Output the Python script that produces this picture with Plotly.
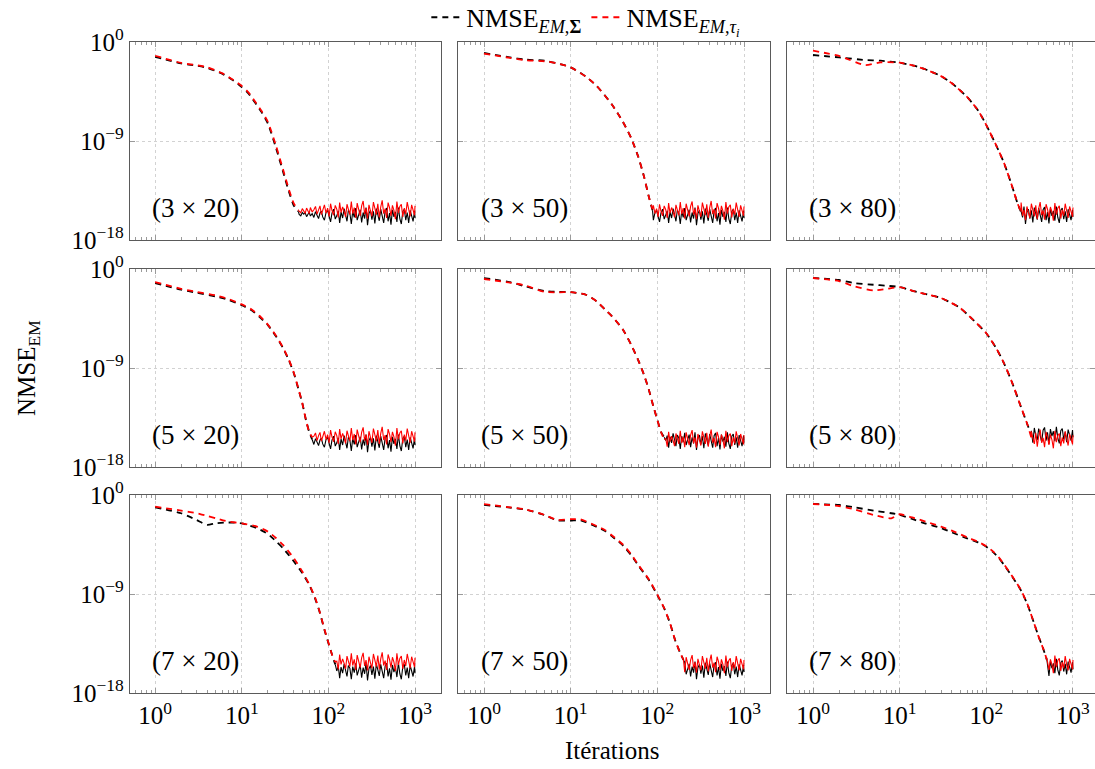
import plotly.graph_objects as go

# ---------------- data (log10 of NMSE) ----------------
LABELS = ["(3 × 20)", "(3 × 50)", "(3 × 80)",
          "(5 × 20)", "(5 × 50)", "(5 × 80)",
          "(7 × 20)", "(7 × 50)", "(7 × 80)"]

IT_3x20 = [1, 2, 3, 4, 6, 8, 10, 12, 14.5, 17, 20, 25, 30, 35, 40, 45]
K_3x20 = [-1.35, -1.95, -2.15, -2.35, -2.9, -3.5, -4.1, -4.7, -5.6, -6.4, -7.4, -9.7, -11.8, -13.6, -14.9, -15.4]
R_3x20 = [-1.25, -1.9, -2.1, -2.3, -2.85, -3.45, -4.0, -4.6, -5.5, -6.3, -7.25, -9.5, -11.6, -13.4, -14.7, -15.3]

IT_3x50 = [1, 2, 3, 5, 7, 10, 15, 20, 30, 40, 50, 60, 70, 80, 88]
K_3x50 = [-1.0, -1.4, -1.6, -1.7, -1.95, -2.3, -3.15, -4.0, -5.7, -7.25, -8.75, -10.4, -12.2, -14.1, -15.3]
R_3x50 = [-1.05, -1.45, -1.65, -1.75, -1.95, -2.3, -3.15, -4.0, -5.7, -7.25, -8.75, -10.4, -12.2, -14.1, -15.2]

IT_3x80 = [1, 2, 4, 6, 10, 15, 20, 30, 40, 60, 80, 100, 130, 160, 200, 230, 250]
K_3x80 = [-1.18, -1.4, -1.64, -1.7, -1.88, -2.18, -2.5, -3.1, -3.75, -5.0, -6.2, -7.55, -9.4, -11.0, -13.2, -14.7, -15.4]
R_3x80 = [-0.79, -1.27, -2.1, -1.85, -1.88, -2.18, -2.5, -3.1, -3.75, -5.0, -6.2, -7.55, -9.4, -11.0, -13.2, -14.7, -15.4]

IT_5x20 = [1, 2, 3, 5, 7, 10, 13, 16, 20, 25, 30, 35, 40, 45, 50, 55, 60, 65]
K_5x20 = [-1.28, -1.88, -2.15, -2.5, -2.8, -3.3, -3.75, -4.35, -5.1, -6.15, -7.2, -8.3, -9.5, -10.9, -12.2, -13.7, -14.8, -15.5]
R_5x20 = [-1.19, -1.8, -2.08, -2.4, -2.72, -3.22, -3.68, -4.25, -5.05, -6.1, -7.15, -8.25, -9.45, -10.85, -12.2, -13.7, -14.8, -15.3]

IT_5x50 = [1, 2, 3, 5, 7, 10, 15, 20, 25, 30, 40, 50, 60, 70, 80, 90, 100, 110, 120]
K_5x50 = [-0.82, -1.2, -1.58, -2.0, -2.08, -2.1, -2.34, -2.95, -3.7, -4.3, -5.5, -6.9, -8.27, -9.6, -11.0, -12.5, -13.7, -14.8, -15.3]
R_5x50 = [-0.91, -1.24, -1.5, -2.08, -2.12, -2.1, -2.34, -2.95, -3.7, -4.3, -5.5, -6.9, -8.27, -9.6, -11.0, -12.5, -13.7, -14.8, -15.5]

IT_5x80 = [1, 2, 3, 5, 7, 10, 15, 20, 30, 40, 50, 70, 100, 130, 160, 200, 250, 300, 330]
K_5x80 = [-0.82, -1.0, -1.28, -1.43, -1.52, -1.64, -2.04, -2.28, -2.64, -3.1, -3.55, -4.6, -5.84, -7.2, -8.57, -10.4, -12.5, -14.2, -15.0]
R_5x80 = [-0.82, -1.1, -1.58, -1.95, -1.82, -1.64, -2.04, -2.28, -2.64, -3.1, -3.55, -4.6, -5.84, -7.2, -8.57, -10.4, -12.5, -14.2, -15.3]

IT_7x20 = [1, 2, 3, 4, 5, 7, 10, 15, 20, 25, 30, 40, 50, 60, 70, 80, 90, 100, 110, 120]
K_7x20 = [-1.12, -1.66, -2.27, -2.72, -2.57, -2.5, -2.57, -3.02, -3.54, -4.23, -4.84, -6.05, -7.1, -8.17, -9.37, -10.74, -12.25, -13.46, -14.5, -15.4]
R_7x20 = [-1.06, -1.42, -1.66, -1.9, -2.12, -2.42, -2.57, -2.87, -3.33, -3.93, -4.54, -5.75, -6.96, -8.1, -9.3, -10.7, -12.2, -13.4, -14.5, -15.2]

IT_7x50 = [1, 2, 3, 5, 7, 10, 13, 20, 25, 30, 40, 50, 60, 80, 100, 120, 140, 160, 180, 200]
K_7x50 = [-0.9, -1.15, -1.32, -1.83, -2.3, -2.33, -2.3, -2.9, -3.28, -3.76, -4.58, -5.48, -6.38, -7.74, -9.1, -10.3, -11.65, -13.17, -14.2, -15.0]
R_7x50 = [-0.82, -1.12, -1.3, -1.81, -2.27, -2.2, -2.22, -2.82, -3.2, -3.68, -4.5, -5.4, -6.32, -7.68, -9.05, -10.29, -11.65, -13.17, -14.2, -14.97]

IT_7x80 = [1, 2, 3, 5, 8, 10, 15, 20, 30, 40, 60, 80, 100, 120, 140, 160, 200, 250, 300, 350, 400, 450, 500]
K_7x80 = [-0.82, -0.91, -1.12, -1.42, -1.66, -1.81, -2.27, -2.6, -3.0, -3.4, -3.95, -4.3, -4.7, -5.2, -5.75, -6.35, -7.45, -8.65, -10.0, -11.5, -12.85, -13.9, -15.0]
R_7x80 = [-0.82, -1.0, -1.3, -1.81, -2.12, -1.75, -2.12, -2.42, -2.87, -3.24, -3.85, -4.25, -4.65, -5.15, -5.7, -6.3, -7.41, -8.62, -9.98, -11.5, -12.85, -13.9, -14.97]

# noise floor after convergence (log10 levels)
FLOOR_K = [-15.6, -15.6, -15.5, -15.6, -15.4, -14.9, -15.8, -15.7, -15.45]
FLOOR_R = [-15.4, -15.45, -15.55, -15.35, -15.6, -15.6, -15.3, -15.5, -15.5]

TAIL_IT = [40, 42, 44, 46, 48, 50, 52, 54, 56, 58, 60, 62, 65, 68, 71, 74, 77, 80, 83, 86,
           90, 94, 98, 102, 106, 110, 115, 120, 125, 130, 135, 140, 146, 152, 158, 164, 170, 177, 184, 191,
           199, 207, 215, 224, 233, 242, 252, 262, 272, 283, 294, 306, 318, 331, 344, 358, 372, 387, 402, 418,
           435, 452, 470, 489, 508, 528, 549, 571, 594, 618, 643, 668, 695, 723, 752, 782, 813, 845, 879, 914,
           950, 988, 1000]
NOISE_K = [0.05, -0.12, 0.02, -0.08, -0.20, 0.10, -0.05, 0.08, -0.28, -0.10,
           0.12, -0.22, 0.00, -0.35, 0.18, -0.15, -0.45, 0.05, 0.22, -0.30,
           -0.60, 0.10, 0.30, -0.25, -0.75, 0.05, 0.40, -0.50, -0.20, 0.25,
           -0.85, 0.15, -0.40, 0.45, -0.10, -0.70, 0.30, 0.05, -0.95, 0.20,
           -0.35, 0.50, -0.60, -0.15, 0.35, -0.80, 0.10, -0.45, 0.55, -1.05,
           0.00, 0.30, -0.55, 0.20, -0.90, 0.45, -0.25, -0.65, 0.40, -0.10,
           -0.85, 0.25, 0.50, -0.70, 0.05, -1.00, 0.35, -0.30, 0.15, -0.75,
           0.55, -0.45, -0.95, 0.20, 0.40, -0.60, 0.10, -0.85, 0.30, -0.20,
           -0.70, 0.25, -0.40]
NOISE_R = [0.08, -0.05, 0.18, 0.00, -0.12, 0.25, 0.05, -0.18, 0.30, 0.10,
           -0.20, 0.35, -0.05, 0.15, 0.45, -0.25, 0.20, 0.50, -0.30, 0.05,
           0.60, -0.15, 0.30, -0.45, 0.70, 0.10, -0.35, 0.55, 0.20, -0.55,
           0.80, -0.10, 0.40, 0.00, -0.50, 0.65, 0.25, -0.30, 0.90, -0.20,
           0.35, -0.60, 0.75, 0.10, -0.40, 0.50, 0.95, -0.25, 0.30, -0.65,
           0.60, 0.05, -0.45, 0.85, 0.20, -0.30, 0.70, -0.55, 0.40, 1.00,
           -0.20, 0.25, -0.60, 0.80, 0.35, -0.40, 0.55, 0.10, -0.70, 0.90,
           -0.15, 0.45, 0.65, -0.50, 0.30, -0.25, 0.85, 0.05, -0.45, 0.60,
           0.20, -0.35, 0.50]

X_TICKS = [1, 10, 100, 1000]
X_TICKTEXT = ["10<sup>0</sup>", "10<sup>1</sup>", "10<sup>2</sup>", "10<sup>3</sup>"]
Y_TICKS = [1, 1e-9, 1e-18]
Y_TICKTEXT = ["10<sup>0</sup>", "10<sup>−9</sup>", "10<sup>−18</sup>"]
X_MINOR = [0.6, 0.7, 0.8, 0.9] + [m * d for d in (1, 10, 100) for m in range(2, 10)] + [2000]

PANELS = [(IT_3x20, K_3x20, R_3x20), (IT_3x50, K_3x50, R_3x50), (IT_3x80, K_3x80, R_3x80),
          (IT_5x20, K_5x20, R_5x20), (IT_5x50, K_5x50, R_5x50), (IT_5x80, K_5x80, R_5x80),
          (IT_7x20, K_7x20, R_7x20), (IT_7x50, K_7x50, R_7x50), (IT_7x80, K_7x80, R_7x80)]

# ---------------- layout geometry ----------------
W, H = 1095, 769
COL_PX = [(130, 441), (458, 770), (787, 1095)]
ROW_PX = [(42, 240), (269, 467), (495, 693)]
XR = [[-0.29, 3.3], [-0.3, 3.3], [-0.3, 3.254]]

FONT = "Liberation Serif"
FRAME = "#5a5a5a"
TICKC = "#9a9a9a"
GRID = "#d2d2d2"
TICKSIZE = 25

fig = go.Figure()
layout = dict(
    width=W, height=H, margin=dict(l=0, r=0, t=0, b=0, pad=0, autoexpand=False),
    paper_bgcolor="white", plot_bgcolor="white",
    font=dict(family=FONT, size=TICKSIZE, color="black"),
    showlegend=True,
    legend=dict(orientation="h", x=0.535, xanchor="center", y=1.008, yanchor="top",
                font=dict(family=FONT, size=26), bgcolor="rgba(0,0,0,0)",
                itemwidth=30, tracegroupgap=0),
)
annotations = []

for p, (it, k, r) in enumerate(PANELS):
    row, col = divmod(p, 3)
    n = p + 1
    xa = "x" if n == 1 else f"x{n}"
    ya = "y" if n == 1 else f"y{n}"
    x0, x1 = COL_PX[col]
    y0, y1 = ROW_PX[row]

    layout["xaxis" if n == 1 else f"xaxis{n}"] = dict(
        type="log", range=XR[col], domain=[x0 / W, x1 / W], anchor=ya,
        showline=True, linecolor=FRAME, linewidth=1.3, mirror="ticks",
        ticks="inside", ticklen=5, tickcolor=TICKC, tickwidth=1,
        tickvals=X_TICKS, ticktext=X_TICKTEXT, showticklabels=(row == 2),
        ticklabeloverflow="allow",
        tickfont=dict(family=FONT, size=TICKSIZE, color="black"),
        showgrid=True, gridcolor=GRID, griddash="dot", gridwidth=1,
        minor=dict(tickvals=X_MINOR, ticks="inside", ticklen=3, tickcolor=TICKC, showgrid=False),
        zeroline=False,
    )
    layout["yaxis" if n == 1 else f"yaxis{n}"] = dict(
        type="log", range=[-18, 0], domain=[1 - y1 / H, 1 - y0 / H], anchor=xa,
        showline=True, linecolor=FRAME, linewidth=1.3, mirror="ticks",
        ticks="inside", ticklen=5, tickcolor=TICKC, tickwidth=1,
        tickvals=Y_TICKS, ticktext=Y_TICKTEXT, showticklabels=(col == 0),
        tickfont=dict(family=FONT, size=TICKSIZE, color="black"),
        showgrid=True, gridcolor=GRID, griddash="dot", gridwidth=1,
        zeroline=False,
    )

    for vals, floor, noise, color, name in (
            (k, FLOOR_K[p], NOISE_K, "black", "NMSE<sub><i>EM</i>,<b>Σ</b></sub>"),
            (r, FLOOR_R[p], NOISE_R, "red", "NMSE<sub><i>EM</i>,<i>τ<sub>i</sub></i></sub>")):
        fig.add_trace(go.Scatter(
            x=it, y=[10 ** v for v in vals], xaxis=xa, yaxis=ya, mode="lines",
            line=dict(color=color, width=1.8, dash="6px,5px", shape="spline", smoothing=0.6),
            name=name, legendgroup=color, showlegend=(p == 0), hoverinfo="skip"))
        tx = [it[-1]] + [t for t in TAIL_IT if t > it[-1]]
        ty = [10 ** vals[-1]] + [10 ** (floor + nz) for t, nz in zip(TAIL_IT, noise) if t > it[-1]]
        fig.add_trace(go.Scatter(
            x=tx, y=ty, xaxis=xa, yaxis=ya, mode="lines",
            line=dict(color=color, width=1.1),
            legendgroup=color, showlegend=False, hoverinfo="skip"))

    annotations.append(dict(
        text=LABELS[p], xref=f"{xa} domain", yref=f"{ya} domain",
        x=0.212, y=0.16, xanchor="center", yanchor="middle", showarrow=False,
        font=dict(family=FONT, size=27, color="black")))

annotations.append(dict(text="Itérations", xref="paper", yref="paper",
                        x=612 / W, y=1 - 750 / H, xanchor="center", yanchor="middle",
                        showarrow=False, font=dict(family=FONT, size=25)))
annotations.append(dict(text="NMSE<sub>EM</sub>", xref="paper", yref="paper",
                        x=28 / W, y=1 - 368 / H, xanchor="center", yanchor="middle",
                        textangle=-90, showarrow=False, font=dict(family=FONT, size=25)))
layout["annotations"] = annotations

fig.update_layout(**layout)
fig.write_html("out.html", config={"displayModeBar": False},
               post_script="document.body.style.margin='0';document.body.style.overflow='hidden';")
